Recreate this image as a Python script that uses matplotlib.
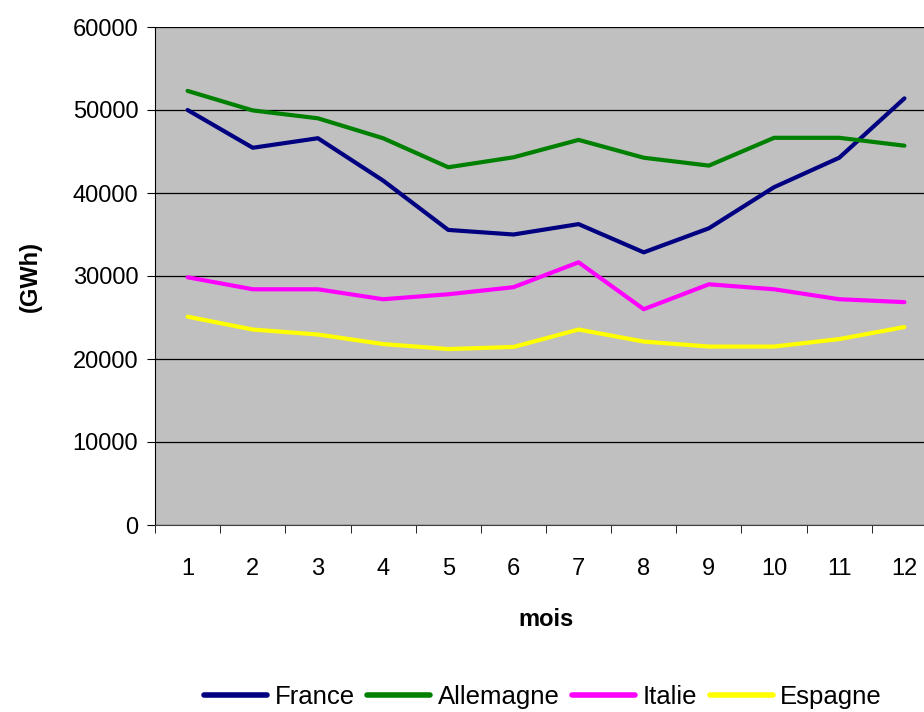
import matplotlib
matplotlib.use("Agg")
import matplotlib.pyplot as plt
import numpy as np

plt.rcParams['font.family'] = ['Liberation Sans', 'DejaVu Sans']

# monthly production (GWh)
mois = list(range(1, 13))
france = [50000, 45450, 46600, 41500, 35550, 35000, 36250, 32850, 35750, 40700, 44250, 51400]
allemagne = [52300, 49950, 49000, 46600, 43100, 44300, 46400, 44250, 43300, 46650, 46650, 45700]
italie = [29850, 28400, 28400, 27200, 27800, 28650, 31650, 26000, 29000, 28400, 27200, 26850]
espagne = [25100, 23550, 22950, 21800, 21200, 21450, 23550, 22100, 21500, 21500, 22400, 23850]

SERIES = [
    ("France", france, "#000080"),
    ("Allemagne", allemagne, "#008000"),
    ("Italie", italie, "#FF00FF"),
    ("Espagne", espagne, "#FFFF00"),
]

FS = 17

fig = plt.figure(figsize=(9.24, 7.12), dpi=100)
ax = fig.add_axes([155 / 924., 187 / 712., 782 / 924., 498 / 712.])
ax.set_facecolor("#C0C0C0")

for name, vals, col in SERIES:
    ax.plot(mois, vals, color=col, lw=3.0, label=name,
            solid_capstyle="round", solid_joinstyle="round", zorder=3)

ax.set_xlim(0.5, 12.5)
ax.set_ylim(0, 60000)
ax.set_yticks(np.arange(0, 60001, 10000))
ax.yaxis.grid(True, color="black", lw=0.9)
ax.set_axisbelow(True)

ax.set_xticks(mois)
ax.set_xticks(np.arange(0.5, 13, 1), minor=True)
ax.tick_params(axis="x", which="major", length=0, pad=24, labelsize=FS)
ax.tick_params(axis="x", which="minor", length=6, direction="out")
ax.tick_params(axis="y", length=6, direction="out", labelsize=FS, pad=6)

for side in ["top", "right"]:
    ax.spines[side].set_visible(False)
ax.spines["left"].set_color("black")
ax.spines["bottom"].set_color("#404040")

ax.set_xlabel("mois", fontsize=FS, fontweight="bold", labelpad=20)
ax.set_ylabel("(GWh)", fontsize=FS, fontweight="bold", labelpad=22)

leg = fig.legend(loc="center", bbox_to_anchor=(543 / 924., 1 - 697 / 712.),
                 ncol=4, frameon=False, fontsize=18.5, handlelength=2.45,
                 handletextpad=0.28, columnspacing=0.5)
for line in leg.get_lines():
    line.set_linewidth(4)

fig.savefig("out.png", dpi=100)
